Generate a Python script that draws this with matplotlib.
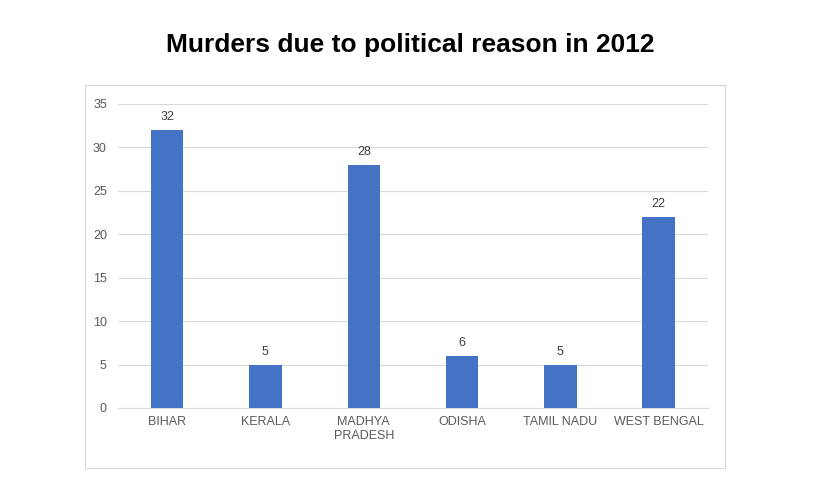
import matplotlib
matplotlib.use("Agg")
import matplotlib.pyplot as plt
from matplotlib.patches import Rectangle

states = ["BIHAR", "KERALA", "MADHYA\nPRADESH", "ODISHA", "TAMIL NADU", "WEST BENGAL"]
murders = [32, 5, 28, 6, 5, 22]
yticks = [0, 5, 10, 15, 20, 25, 30, 35]

fig = plt.figure(figsize=(8.25, 5), dpi=100)
fig.patch.set_facecolor("white")

# chart frame
fig.patches.append(Rectangle((0.103, 0.064), 0.776, 0.766, transform=fig.transFigure,
                             fill=False, edgecolor="#d9d9d9", linewidth=0.8))

fig.text(0.497, 0.91, "Murders due to political reason in 2012", ha="center", va="center",
         fontsize=19, fontweight="bold", family="Liberation Sans")

ax = fig.add_axes([0.143, 0.184, 0.715, 0.608])
x = range(len(states))
bars = ax.bar(x, murders, width=0.33, color="#4472C4", zorder=3)
for b, v in zip(bars, murders):
    ax.text(b.get_x() + b.get_width() / 2, v + 0.8, str(v), ha="center", va="bottom",
            fontsize=9, color="#404040", family="Liberation Sans")

ax.set_xlim(-0.5, len(states) - 0.5)
ax.set_ylim(0, 35)
ax.set_yticks(yticks)
ax.set_xticks(list(x))
ax.set_xticklabels(states, family="Liberation Sans", fontsize=9, color="#595959")
ax.tick_params(axis="y", labelsize=9, labelcolor="#595959", length=0, pad=8)
ax.tick_params(axis="x", length=0, pad=6)
ax.grid(axis="y", color="#d9d9d9", linewidth=0.8, zorder=0)
for s in ["top", "right", "left"]:
    ax.spines[s].set_visible(False)
ax.spines["bottom"].set_color("#d9d9d9")
for lab in ax.get_yticklabels():
    lab.set_family("Liberation Sans")

fig.savefig("out.png", dpi=100)
